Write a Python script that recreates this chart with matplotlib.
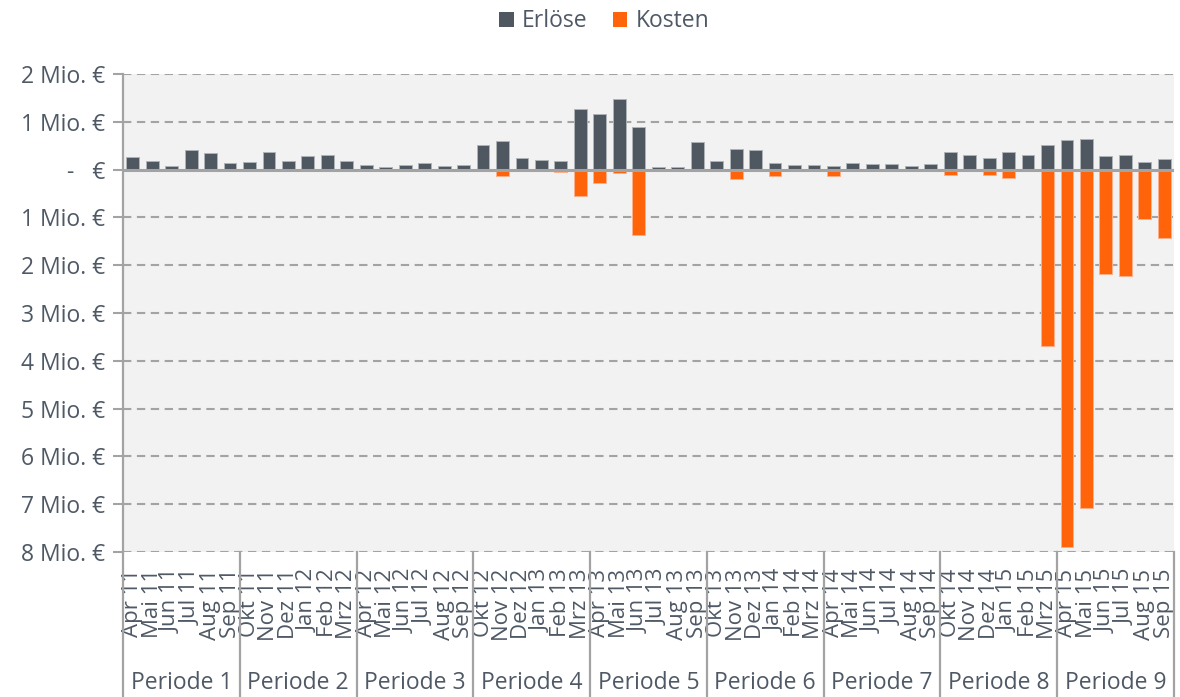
import matplotlib
matplotlib.use("Agg")
import matplotlib.pyplot as plt
import matplotlib.transforms as mtransforms
from matplotlib.patches import Patch
import numpy as np

months = ["Apr 11", "Mai 11", "Jun 11", "Jul 11", "Aug 11", "Sep 11",
          "Okt 11", "Nov 11", "Dez 11", "Jan 12", "Feb 12", "Mrz 12",
          "Apr 12", "Mai 12", "Jun 12", "Jul 12", "Aug 12", "Sep 12",
          "Okt 12", "Nov 12", "Dez 12", "Jan 13", "Feb 13", "Mrz 13",
          "Apr 13", "Mai 13", "Jun 13", "Jul 13", "Aug 13", "Sep 13",
          "Okt 13", "Nov 13", "Dez 13", "Jan 14", "Feb 14", "Mrz 14",
          "Apr 14", "Mai 14", "Jun 14", "Jul 14", "Aug 14", "Sep 14",
          "Okt 14", "Nov 14", "Dez 14", "Jan 15", "Feb 15", "Mrz 15",
          "Apr 15", "Mai 15", "Jun 15", "Jul 15", "Aug 15", "Sep 15"]

periods = ["Periode 1", "Periode 2", "Periode 3", "Periode 4", "Periode 5",
           "Periode 6", "Periode 7", "Periode 8", "Periode 9"]

# values in Mio. €
erloese = [0.26, 0.19, 0.08, 0.40, 0.35, 0.14,
           0.16, 0.375, 0.19, 0.28, 0.31, 0.19,
           0.10, 0.05, 0.10, 0.14, 0.08, 0.10,
           0.51, 0.60, 0.24, 0.20, 0.19, 1.27,
           1.17, 1.48, 0.90, 0.055, 0.055, 0.58,
           0.19, 0.44, 0.40, 0.14, 0.10, 0.10,
           0.07, 0.13, 0.12, 0.125, 0.08, 0.125,
           0.375, 0.31, 0.24, 0.36, 0.31, 0.51,
           0.62, 0.64, 0.28, 0.31, 0.16, 0.22]

kosten = [0, 0, 0, 0, 0, 0,
          0, 0, 0, 0, 0, 0,
          0, 0, 0, 0, 0, 0,
          0, -0.125, 0, 0, -0.05, -0.56,
          -0.28, -0.07, -1.37, 0, 0, 0,
          0, -0.19, 0, -0.125, 0, 0,
          -0.125, 0, 0, 0, 0, 0,
          -0.11, 0, -0.11, -0.18, 0, -3.68,
          -7.89, -7.08, -2.19, -2.22, -1.04, -1.44]

y_ticks = [2, 1, 0, -1, -2, -3, -4, -5, -6, -7, -8]
y_labels = ["2 Mio. €", "1 Mio. €", "-   €", "1 Mio. €", "2 Mio. €", "3 Mio. €",
            "4 Mio. €", "5 Mio. €", "6 Mio. €", "7 Mio. €", "8 Mio. €"]

plt.rcParams['font.family'] = ['Open Sans', 'DejaVu Sans']
plt.rcParams['lines.scale_dashes'] = False

TXT = '#4F5966'
GRID = '#A3A3A3'
C_ERL = '#4F5861'
C_KOS = '#FF640A'

fig = plt.figure(figsize=(11.8, 6.97), dpi=100)
ax = fig.add_axes([123/1180, 145/697, (1174-123)/1180, (552-74)/697])
ax.set_facecolor('#F2F2F2')

x = np.arange(len(months))
ax.bar(x, erloese, width=0.66, color=C_ERL, edgecolor='#AEB3B8', linewidth=0.7, zorder=3)
ax.bar(x, kosten, width=0.66, color=C_KOS, edgecolor='#FFB08A', linewidth=0.7, zorder=3)

ax.set_xlim(-0.5, len(months) - 0.5)
ax.set_ylim(-8, 2)

for yv in y_ticks:
    if yv == 0:
        ax.axhline(0, color=GRID, lw=2.2, zorder=4)
    else:
        ax.axhline(yv, color=GRID, lw=1.5, dashes=(6, 4), zorder=1)

ax.set_yticks(y_ticks)
ax.set_yticklabels(y_labels, fontsize=16.5, color=TXT)
ax.tick_params(axis='y', length=7, width=1.5, color=GRID, pad=6)

ax.set_xticks(x)
ax.set_xticklabels(months, rotation=90, fontsize=16, color=TXT)
ax.tick_params(axis='x', length=0, pad=12)

for s in ['top', 'right', 'bottom']:
    ax.spines[s].set_visible(False)
ax.spines['left'].set_color(GRID)
ax.spines['left'].set_linewidth(1.6)

# multi-level category separators
trans = mtransforms.blended_transform_factory(ax.transData, ax.transAxes)
ybot = -(697 - 552) / (552 - 74)
for k in range(len(periods) + 1):
    xb = -0.5 + 6 * k
    ax.plot([xb, xb], [0, ybot], transform=trans,
            color=GRID, lw=1.6, clip_on=False, zorder=5)
for k, p in enumerate(periods):
    ax.text(-0.5 + 6 * k + 3, -(683 - 552) / (552 - 74), p, transform=trans,
            ha='center', va='center', fontsize=16.5, color=TXT)

handles = [Patch(facecolor=C_ERL, edgecolor='none', label='Erlöse'),
           Patch(facecolor=C_KOS, edgecolor='none', label='Kosten')]
fig.legend(handles=handles, loc='upper center', bbox_to_anchor=(604/1180, 1.016),
           ncol=2, frameon=False, fontsize=16.5, handlelength=0.65, handleheight=0.65,
           handletextpad=0.35, columnspacing=1.1, labelcolor=TXT)

fig.savefig('out.png', dpi=100)
